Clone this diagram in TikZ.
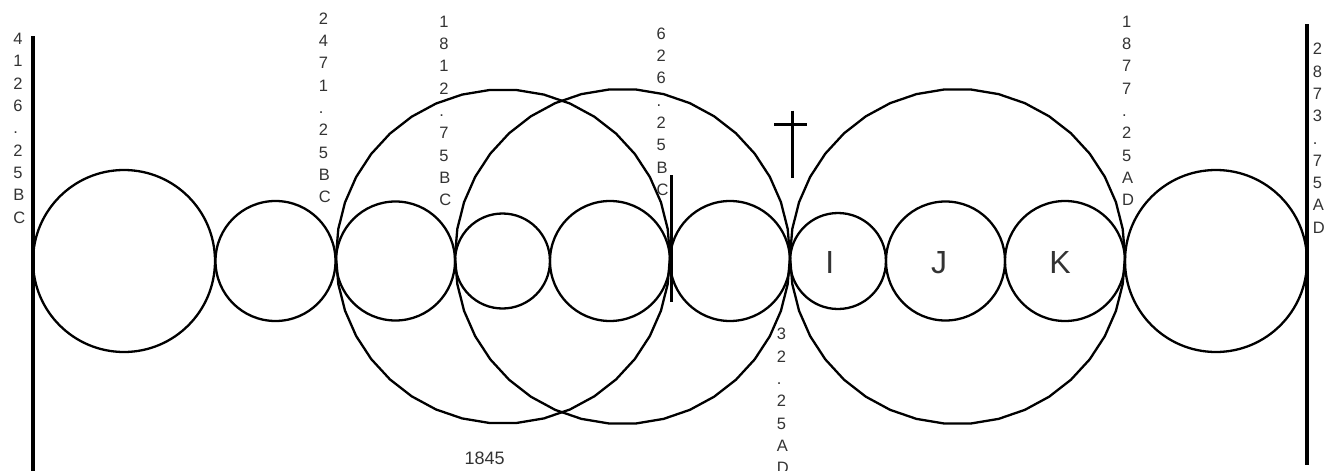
\documentclass[tikz,border=0pt]{standalone}
\usepackage{fontspec}
\setmainfont{Liberation Sans}
\usetikzlibrary{shapes.geometric}
\begin{document}
\begin{tikzpicture}[x=1pt,y=-1pt,
  ring/.style={draw=black, line width=2.3pt, circle, inner sep=0pt, outer sep=0pt},
  bigring/.style={draw=black, line width=2.3pt, regular polygon, regular polygon sides=38, inner sep=0pt, outer sep=0pt},
  bar/.style={draw=black, line width=3.2pt},
  cross/.style={draw=black, line width=3pt},
  stack/.style={anchor=north west, inner sep=0pt, outer sep=0pt, align=left, text=txt,
    font=\fontsize{16.5}{22.3}\selectfont},
  big/.style={inner sep=0pt, text=txt, font=\fontsize{32}{36}\selectfont, anchor=base},
  note/.style={anchor=north west, inner sep=0pt, text=txt, font=\fontsize{18}{20}\selectfont}]
\definecolor{txt}{HTML}{333333}
\useasboundingbox (0,0) rectangle (1339,471);
% small circles
\node[ring, minimum size=182pt] (c1) at (124,261) {};
\node[ring, minimum size=120pt] (c2) at (275.5,261) {};
\node[ring, minimum size=119pt] (c3) at (395.5,261) {};
\node[ring, minimum size=95pt]  (c4) at (502.5,261) {};
\node[ring, minimum size=120pt] (c5) at (610,261) {};
\node[ring, minimum size=120pt] (c6) at (730,261) {};
\node[ring, minimum size=96pt]  (cI) at (838,261) {};
\node[ring, minimum size=119pt] (cJ) at (945.5,261) {};
\node[ring, minimum size=120pt] (cK) at (1065,261) {};
\node[ring, minimum size=182pt] (c10) at (1216,261) {};
% big circles (drawn as polygons)
\node[bigring, minimum size=334pt] (bA) at (503,256.5) {};
\node[bigring, minimum size=335pt] (bB) at (622.5,256.5) {};
\node[bigring, minimum size=335pt] (bC) at (957.5,256.5) {};
% vertical lines
\coordinate (l1t) at (33,36);   \coordinate (l1b) at (33,471);
\coordinate (l2t) at (1307,24); \coordinate (l2b) at (1307,465);
\coordinate (l3t) at (671.5,175); \coordinate (l3b) at (671.5,302);
\draw[bar] (l1t) -- (l1b);
\draw[bar] (l2t) -- (l2b);
\draw[bar] (l3t) -- (l3b);
% cross
\coordinate (xt) at (792.3,110.5); \coordinate (xb) at (792.3,178);
\coordinate (xl) at (774,124);     \coordinate (xr) at (806.5,124);
\draw[cross] (xt) -- (xb);
\draw[cross] (xl) -- (xr);
% stacked date labels
\node[stack] (d1) at (13.3,33.3) {4\\1\\2\\6\\.\\2\\5\\B\\C};
\node[stack] (d2) at (318.8,12.7) {2\\4\\7\\1\\.\\2\\5\\B\\C};
\node[stack] (d3) at (439.3,16) {1\\8\\1\\2\\.\\7\\5\\B\\C};
\node[stack] (d4) at (656.5,27.7) {6\\2\\6\\.\\2\\5\\B\\C};
\node[stack] (d5) at (776.8,328.3) {3\\2\\.\\2\\5\\A\\D};
\node[stack] (d6) at (1122.2,16) {1\\8\\7\\7\\.\\2\\5\\A\\D};
\node[stack] (d7) at (1312.8,43.3) {2\\8\\7\\3\\.\\7\\5\\A\\D};
% other labels
\node[note] (n1845) at (464.5,452) {1845};
\node[big] (lI) at (829.8,273) {I};
\node[big] (lJ) at (939,273) {J};
\node[big] (lK) at (1060,273) {K};
\end{tikzpicture}
\end{document}
